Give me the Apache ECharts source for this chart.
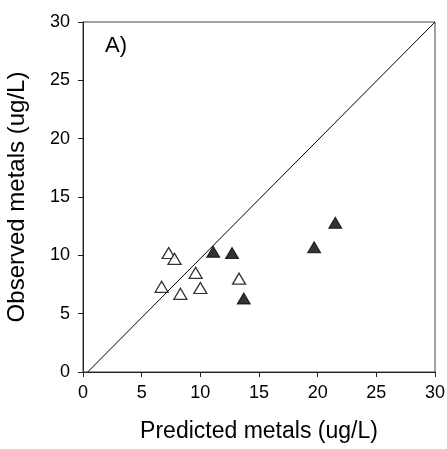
<!DOCTYPE html>
<html>
<head>
<meta charset="utf-8">
<script src="https://cdn.jsdelivr.net/npm/echarts@6/dist/echarts.min.js"></script>
<style>
  html, body { margin: 0; padding: 0; background: #fff; }
  #chart { width: 447px; height: 449px; }
</style>
</head>
<body>
<div id="chart"></div>
<script>
// Predicted vs observed dissolved metals (ug/L)
const openPredicted = [7.3, 7.8, 6.7, 8.3, 9.6, 10.0, 13.3];
const openObserved  = [10.2, 9.7, 7.3, 6.7, 8.5, 7.2, 8.0];
const filledPredicted = [11.1, 12.7, 13.7, 19.7, 21.5];
const filledObserved  = [10.3, 10.2, 6.3, 10.7, 12.8];
// 1:1 reference line endpoints
const oneToOneX = [0.4, 30];
const oneToOneY = [0, 30];
const axisTicks = [0, 5, 10, 15, 20, 25, 30];

const font = 'Liberation Sans, Arial, sans-serif';
const zip = (xs, ys) => xs.map((x, i) => [x, ys[i]]);

const chart = echarts.init(document.getElementById('chart'), null, { renderer: 'canvas' });

const axisCommon = {
  min: axisTicks[0],
  max: axisTicks[axisTicks.length - 1],
  interval: axisTicks[1] - axisTicks[0],
  splitLine: { show: false },
  axisLine: { show: true, lineStyle: { color: '#222', width: 1 } },
  axisTick: { show: true, inside: false, length: 5, lineStyle: { color: '#222' } },
  nameLocation: 'middle',
  nameTextStyle: { color: '#000', fontFamily: font }
};

chart.setOption({
  animation: false,
  backgroundColor: '#fff',
  grid: {
    left: 83, right: 12, top: 22, bottom: 77,
    containLabel: false,
    outerBoundsMode: 'none',
    show: true, borderColor: '#444', borderWidth: 1
  },
  xAxis: Object.assign({}, axisCommon, {
    type: 'value',
    name: 'Predicted metals (ug/L)',
    nameGap: 48,
    nameTextStyle: { color: '#000', fontFamily: font, fontSize: 23 },
    axisLabel: { color: '#000', fontFamily: font, fontSize: 18, margin: 12 }
  }),
  yAxis: Object.assign({}, axisCommon, {
    type: 'value',
    name: 'Observed metals (ug/L)',
    nameGap: 54,
    nameTextStyle: { color: '#000', fontFamily: font, fontSize: 24 },
    axisLabel: { color: '#000', fontFamily: font, fontSize: 18, margin: 13 }
  }),
  graphic: [{
    type: 'text',
    left: 105, top: 35,
    style: { text: 'A)', fill: '#000', font: '22px ' + font }
  }],
  series: [
    {
      type: 'line',
      data: zip(oneToOneX, oneToOneY),
      showSymbol: false,
      symbol: 'none',
      lineStyle: { color: '#000', width: 1 },
      silent: true,
      z: 1
    },
    {
      type: 'scatter',
      data: zip(openPredicted, openObserved),
      symbol: 'triangle',
      symbolSize: [13, 11],
      itemStyle: { color: '#fff', borderColor: '#000', borderWidth: 1.3 },
      z: 3
    },
    {
      type: 'scatter',
      data: zip(filledPredicted, filledObserved),
      symbol: 'triangle',
      symbolSize: [13, 11],
      itemStyle: { color: '#000', borderColor: '#000', borderWidth: 1 },
      z: 3
    }
  ]
});
</script>
</body>
</html>
